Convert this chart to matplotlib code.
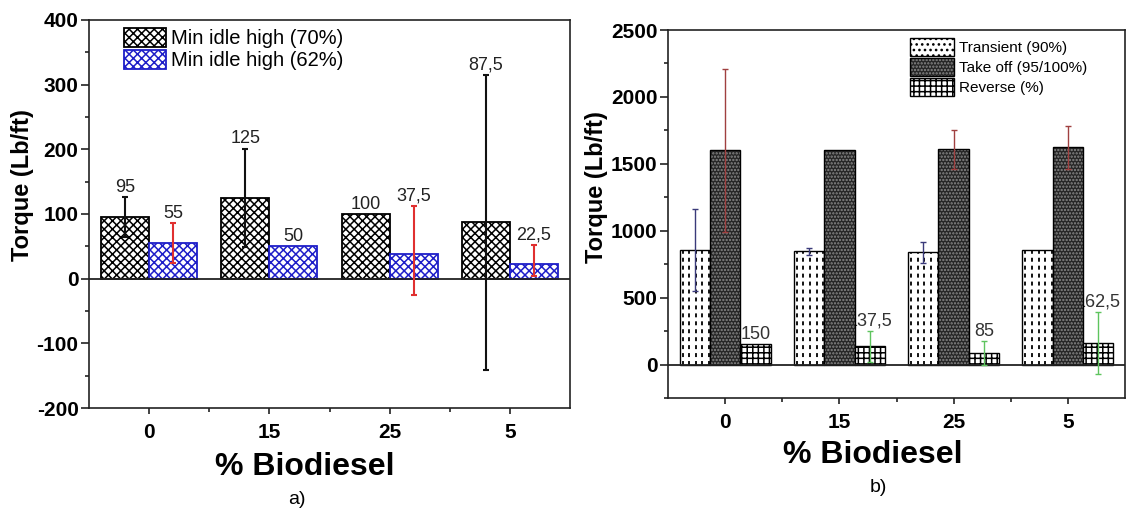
import matplotlib
matplotlib.use('Agg')
import matplotlib.pyplot as plt
import numpy as np
from matplotlib.patches import Patch
from matplotlib.legend_handler import HandlerTuple
from matplotlib.ticker import MultipleLocator, FixedLocator

plt.rcParams['font.family'] = ['Liberation Sans', 'DejaVu Sans']
plt.rcParams['hatch.linewidth'] = 1.1
plt.rcParams['axes.unicode_minus'] = False

categories = ['0', '15', '25', '5']

# ---- panel a ----
idle70 = [95, 125, 100, 87.5]
idle62 = [55, 50, 37.5, 22.5]
idle70_err_lo = [31, 76, 0, 229]
idle70_err_hi = [31, 76, 0, 228]
idle62_err_lo = [31, 0, 62, 19]
idle62_err_hi = [31, 0, 75, 30]
idle70_labels = ['95', '125', '100', '87,5']
idle62_labels = ['55', '50', '37,5', '22,5']
legend_a = ['Min idle high (70%)', 'Min idle high (62%)']

# ---- panel b ----
transient = [855, 845, 838, 855]
takeoff = [1600, 1600, 1607, 1625]
reverse = [150, 137.5, 85, 162.5]
transient_err = [305, 25, 77, 0]
takeoff_err = [607, 0, 143, 160]
reverse_err = [0, 116, 90, 230]
reverse_labels = ['150', '137,5', '85', '162,5']
legend_b = ['Transient (90%)', 'Take off (95/100%)', 'Reverse (%)']

W, H = 1128, 513
fig = plt.figure(figsize=(W / 100, H / 100), dpi=100)
fig.patch.set_facecolor('white')


def fx(px):
    return px / W


def fy(py):
    return 1 - py / H


def add_ax(l, t, r, b):
    return fig.add_axes([fx(l), fy(b), (r - l) / W, (b - t) / H])


def style_axes(ax, ymaj, ymin):
    for s in ax.spines.values():
        s.set_linewidth(1.2)
        s.set_color('#222222')
    ax.yaxis.set_major_locator(MultipleLocator(ymaj))
    ax.yaxis.set_minor_locator(MultipleLocator(ymin))
    ax.set_xticks(np.arange(len(categories)))
    ax.set_xticklabels(categories)
    ax.xaxis.set_minor_locator(FixedLocator(np.arange(len(categories) - 1) + 0.5))
    ax.tick_params(which='major', direction='out', length=6, width=1.2,
                   labelsize=15, top=False, right=False, color='#222222')
    ax.tick_params(which='minor', direction='out', length=3, width=1.2,
                   top=False, right=False, color='#222222')
    ax.tick_params(axis='x', which='major', length=4, pad=7)
    ax.tick_params(axis='y', which='major', pad=1.5)
    for lab in ax.get_xticklabels() + ax.get_yticklabels():
        lab.set_fontweight('bold')
    ax.set_xlim(-0.5, len(categories) - 0.5)


def errbars(ax, xs, vals, lo, hi, color, lw, cap):
    idx = [i for i in range(len(vals)) if lo[i] > 0 or hi[i] > 0]
    if not idx:
        return
    ax.errorbar([xs[i] for i in idx], [vals[i] for i in idx],
                yerr=[[lo[i] for i in idx], [hi[i] for i in idx]],
                fmt='none', ecolor=color, elinewidth=lw, capsize=cap,
                capthick=lw, zorder=4)


# ================= panel a =================
axA = add_ax(89, 20, 570, 408)
x = np.arange(len(categories))
wa = 0.4
axA.bar(x - wa / 2, idle70, wa, facecolor='white', edgecolor='black',
        hatch='xxxx', linewidth=1.3, zorder=2)
axA.bar(x + wa / 2, idle62, wa, facecolor='white', edgecolor='#1e1ec8',
        hatch='xxxx', linewidth=1.3, zorder=2)
axA.axhline(0, color='#222222', lw=1.3, zorder=3)
errbars(axA, x - wa / 2, idle70, idle70_err_lo, idle70_err_hi, '#111111', 1.5, 2.5)
errbars(axA, x + wa / 2, idle62, idle62_err_lo, idle62_err_hi, '#e03030', 1.5, 2.5)
for i in range(len(categories)):
    axA.annotate(idle70_labels[i], (x[i] - wa / 2, idle70[i] + idle70_err_hi[i]),
                 xytext=(0, 1), textcoords='offset points', ha='center',
                 va='bottom', fontsize=13, color='#222222', zorder=5)
    axA.annotate(idle62_labels[i], (x[i] + wa / 2, idle62[i] + idle62_err_hi[i]),
                 xytext=(0, 1), textcoords='offset points', ha='center',
                 va='bottom', fontsize=13, color='#222222', zorder=5)
axA.set_ylim(-200, 400)
style_axes(axA, 100, 50)
hA = [Patch(facecolor='white', edgecolor='black', hatch='xxxx', lw=1.3),
      Patch(facecolor='white', edgecolor='#1e1ec8', hatch='xxxx', lw=1.3)]
axA.legend(hA, legend_a, loc='upper left',
           bbox_to_anchor=((124 - 89) / 481, 1 - 8 / 388), borderaxespad=0,
           borderpad=0, frameon=False, fontsize=14.5, handlelength=2.1,
           handleheight=1.05, handletextpad=0.25, labelspacing=0.1)

fig.text(fx(23), fy(185), 'Torque (Lb/ft)', rotation=90, ha='center',
         va='center', fontsize=17, fontweight='bold')
fig.text(fx(305), fy(467), '% Biodiesel', ha='center', va='center',
         fontsize=23, fontweight='bold')
fig.text(fx(297), fy(500), 'a)', ha='center', va='center', fontsize=14)

# ================= panel b =================
axB = add_ax(668, 30, 1125, 398)
wb = 0.266
takeoff_fill = dict(facecolor='#262626', edgecolor='#8a8a8a', hatch='.....',
                    linewidth=0)
reverse_fill = dict(facecolor='white', edgecolor='black', hatch='+++',
                    linewidth=0)
tb = axB.bar(x - wb, transient, wb, facecolor='white', edgecolor='black',
             linewidth=1.0, zorder=2)
# vertical dashed texture inside each transient bar (style only)
for p in tb.patches:
    x0, w_, h_ = p.get_x(), p.get_width(), p.get_height()
    cols = np.arange(x0 + w_ / 10, x0 + w_, w_ / 4.6)
    axB.vlines(cols, 0, h_, colors='black', linewidth=1.3,
               linestyles=(0, (2.2, 2.2)), zorder=2.5, clip_path=p)
axB.bar(x, takeoff, wb, zorder=2, **takeoff_fill)
axB.bar(x, takeoff, wb, fill=False, edgecolor='black', linewidth=1.0, zorder=2)
axB.bar(x + wb, reverse, wb, zorder=2, **reverse_fill)
axB.bar(x + wb, reverse, wb, fill=False, edgecolor='black', linewidth=1.0, zorder=2)
axB.axhline(0, color='#222222', lw=1.3, zorder=3)
errbars(axB, x - wb, transient, transient_err, transient_err, '#3a3a7a', 1.0, 2.5)
errbars(axB, x, takeoff, takeoff_err, takeoff_err, '#a04040', 1.0, 2.5)
errbars(axB, x + wb, reverse, reverse_err, reverse_err, '#5ec45e', 1.0, 2.5)
for i in range(len(categories)):
    axB.annotate(reverse_labels[i], (x[i] + wb, reverse[i] + reverse_err[i]),
                 xytext=(0, 1), textcoords='offset points', ha='center',
                 va='bottom', fontsize=13, color='#333333', zorder=1)
axB.set_ylim(-250, 2500)
style_axes(axB, 500, 250)
hB = [Patch(facecolor='white', edgecolor='black', hatch='...', lw=1.0),
      (Patch(**takeoff_fill), Patch(fill=False, edgecolor='black', lw=1.0)),
      (Patch(**reverse_fill), Patch(fill=False, edgecolor='black', lw=1.0))]
axB.legend(hB, legend_b, loc='upper left',
           bbox_to_anchor=((910 - 668) / 457, 1 - 8 / 368), borderaxespad=0,
           borderpad=0, frameon=False, fontsize=11, handlelength=2.9,
           handleheight=1.4, handletextpad=0.3, labelspacing=0.15,
           handler_map={tuple: HandlerTuple(ndivide=1, pad=0)})

fig.text(fx(597), fy(187), 'Torque (Lb/ft)', rotation=90, ha='center',
         va='center', fontsize=17, fontweight='bold')
fig.text(fx(873), fy(455), '% Biodiesel', ha='center', va='center',
         fontsize=23, fontweight='bold')
fig.text(fx(878), fy(488), 'b)', ha='center', va='center', fontsize=14)

fig.savefig('out.png', dpi=100, facecolor='white')
